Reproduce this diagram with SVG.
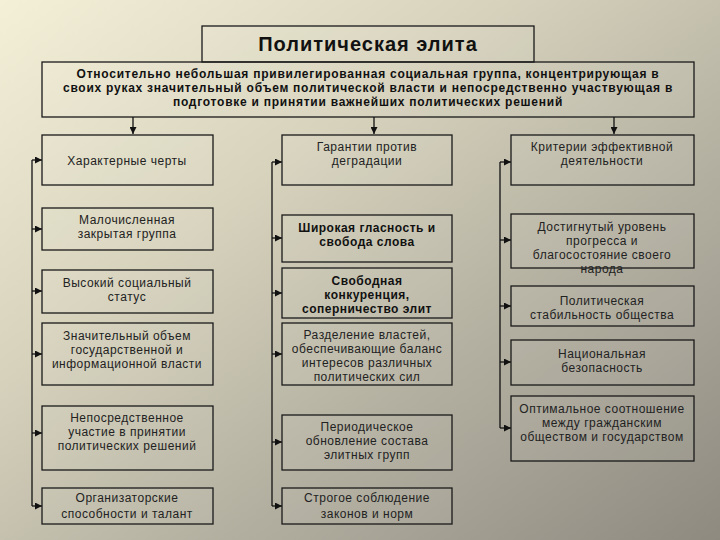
<svg xmlns="http://www.w3.org/2000/svg" width="720" height="540" viewBox="0 0 720 540">
<defs>
<linearGradient id="bg" x1="0" y1="0" x2="1" y2="1">
<stop offset="0" stop-color="#f4f0d8"/>
<stop offset="0.35" stop-color="#d6d2bc"/>
<stop offset="0.7" stop-color="#aeaa9c"/>
<stop offset="1" stop-color="#8e8a80"/>
</linearGradient>
<marker id="ar" viewBox="0 0 8 8" refX="8" refY="4" markerWidth="7" markerHeight="7" markerUnits="userSpaceOnUse" orient="auto"><path d="M0,0 L8,4 L0,8 z" fill="#111"/></marker>
<style>
.b{fill:#fff;fill-opacity:0.06;stroke:#1a1a1a;stroke-width:1.3}
.t{font-family:"Liberation Sans",Arial,sans-serif;font-size:12px;fill:#222;text-anchor:middle;letter-spacing:0.5px}
.bd{font-weight:bold;fill:#111}
.d{letter-spacing:0.75px}
.c{fill:none;stroke:#111;stroke-width:1.3}
</style>
</defs>
<rect width="720" height="540" fill="url(#bg)"/>
<g id="title"><rect class="b" x="202" y="26" width="332" height="36"/><text class="t bd" x="368" y="51" style="font-size:20px;letter-spacing:1px">Политическая элита</text></g>
<g id="def"><rect class="b" x="42" y="62" width="652" height="55"/>
<text class="t bd d" x="368" y="78">Относительно небольшая привилегированная социальная группа, концентрирующая в</text>
<text class="t bd d" x="368" y="92">своих руках значительный объем политической власти и непосредственно участвующая в</text>
<text class="t bd d" x="368" y="106">подготовке и принятии важнейших политических решений</text></g>
<g id="connectors">
<path class="c" d="M133,117 V134" marker-end="url(#ar)"/>
<path class="c" d="M374,117 V134" marker-end="url(#ar)"/>
<path class="c" d="M614,117 V134" marker-end="url(#ar)"/>
<path class="c" d="M32,160 V506"/>
<path class="c" d="M32,160 H42" marker-end="url(#ar)"/>
<path class="c" d="M32,229 H42" marker-end="url(#ar)"/>
<path class="c" d="M32,291 H42" marker-end="url(#ar)"/>
<path class="c" d="M32,354 H42" marker-end="url(#ar)"/>
<path class="c" d="M32,433 H42" marker-end="url(#ar)"/>
<path class="c" d="M32,506 H42" marker-end="url(#ar)"/>
<path class="c" d="M272,162 V506"/>
<path class="c" d="M272,162 H282" marker-end="url(#ar)"/>
<path class="c" d="M272,238 H282" marker-end="url(#ar)"/>
<path class="c" d="M272,293 H282" marker-end="url(#ar)"/>
<path class="c" d="M272,354 H282" marker-end="url(#ar)"/>
<path class="c" d="M272,442 H282" marker-end="url(#ar)"/>
<path class="c" d="M272,506 H282" marker-end="url(#ar)"/>
<path class="c" d="M500,162 V428"/>
<path class="c" d="M500,162 H511" marker-end="url(#ar)"/>
<path class="c" d="M500,240 H511" marker-end="url(#ar)"/>
<path class="c" d="M500,306 H511" marker-end="url(#ar)"/>
<path class="c" d="M500,362 H511" marker-end="url(#ar)"/>
<path class="c" d="M500,428 H511" marker-end="url(#ar)"/>
</g>
<g id="n1"><rect class="b" x="42" y="135" width="171" height="50"/><text class="t" x="127" y="165">Характерные черты</text></g>
<g id="n2"><rect class="b" x="42" y="208" width="171" height="42"/><text class="t" x="127" y="224">Малочисленная</text><text class="t" x="127" y="238">закрытая группа</text></g>
<g id="n3"><rect class="b" x="42" y="270" width="171" height="43"/><text class="t" x="127" y="287">Высокий социальный</text><text class="t" x="127" y="301">статус</text></g>
<g id="n4"><rect class="b" x="42" y="323" width="171" height="62"/><text class="t" x="127" y="340">Значительный объем</text><text class="t" x="127" y="354">государственной и</text><text class="t" x="127" y="368">информационной власти</text></g>
<g id="n5"><rect class="b" x="42" y="406" width="171" height="64"/><text class="t" x="127" y="422">Непосредственное</text><text class="t" x="127" y="436">участие в принятии</text><text class="t" x="127" y="450">политических решений</text></g>
<g id="n6"><rect class="b" x="42" y="488" width="171" height="36"/><text class="t" x="127" y="502">Организаторские</text><text class="t" x="127" y="518">способности и талант</text></g>
<g id="m1"><rect class="b" x="282" y="135" width="170" height="50"/><text class="t" x="367" y="151">Гарантии против</text><text class="t" x="367" y="165">деградации</text></g>
<g id="m2"><rect class="b" x="282" y="215" width="170" height="47"/><text class="t bd" x="367" y="232">Широкая гласность и</text><text class="t bd" x="367" y="246">свобода слова</text></g>
<g id="m3"><rect class="b" x="282" y="268" width="170" height="50"/><text class="t bd" x="367" y="285">Свободная</text><text class="t bd" x="367" y="299">конкуренция,</text><text class="t bd" x="367" y="313">соперничество элит</text></g>
<g id="m4"><rect class="b" x="282" y="323" width="170" height="62"/><text class="t" x="367" y="339">Разделение властей,</text><text class="t" x="367" y="353">обеспечивающие баланс</text><text class="t" x="367" y="367">интересов различных</text><text class="t" x="367" y="381">политических сил</text></g>
<g id="m5"><rect class="b" x="282" y="415" width="170" height="55"/><text class="t" x="367" y="431">Периодическое</text><text class="t" x="367" y="445">обновление состава</text><text class="t" x="367" y="459">элитных групп</text></g>
<g id="m6"><rect class="b" x="282" y="488" width="170" height="36"/><text class="t" x="367" y="502">Строгое соблюдение</text><text class="t" x="367" y="518">законов и норм</text></g>
<g id="r1"><rect class="b" x="511" y="135" width="183" height="50"/><text class="t" x="602" y="151">Критерии эффективной</text><text class="t" x="602" y="165">деятельности</text></g>
<g id="r2"><rect class="b" x="511" y="214" width="183" height="54"/><text class="t" x="602" y="231">Достигнутый уровень</text><text class="t" x="602" y="245">прогресса и</text><text class="t" x="602" y="259">благосостояние своего</text><text class="t" x="602" y="273">народа</text></g>
<g id="r3"><rect class="b" x="511" y="286" width="183" height="40"/><text class="t" x="602" y="305">Политическая</text><text class="t" x="602" y="319">стабильность общества</text></g>
<g id="r4"><rect class="b" x="511" y="340" width="183" height="45"/><text class="t" x="602" y="358">Национальная</text><text class="t" x="602" y="372">безопасность</text></g>
<g id="r5"><rect class="b" x="511" y="396" width="183" height="65"/><text class="t" x="602" y="413">Оптимальное соотношение</text><text class="t" x="602" y="427">между гражданским</text><text class="t" x="602" y="441">обществом и государством</text></g>
</svg>
